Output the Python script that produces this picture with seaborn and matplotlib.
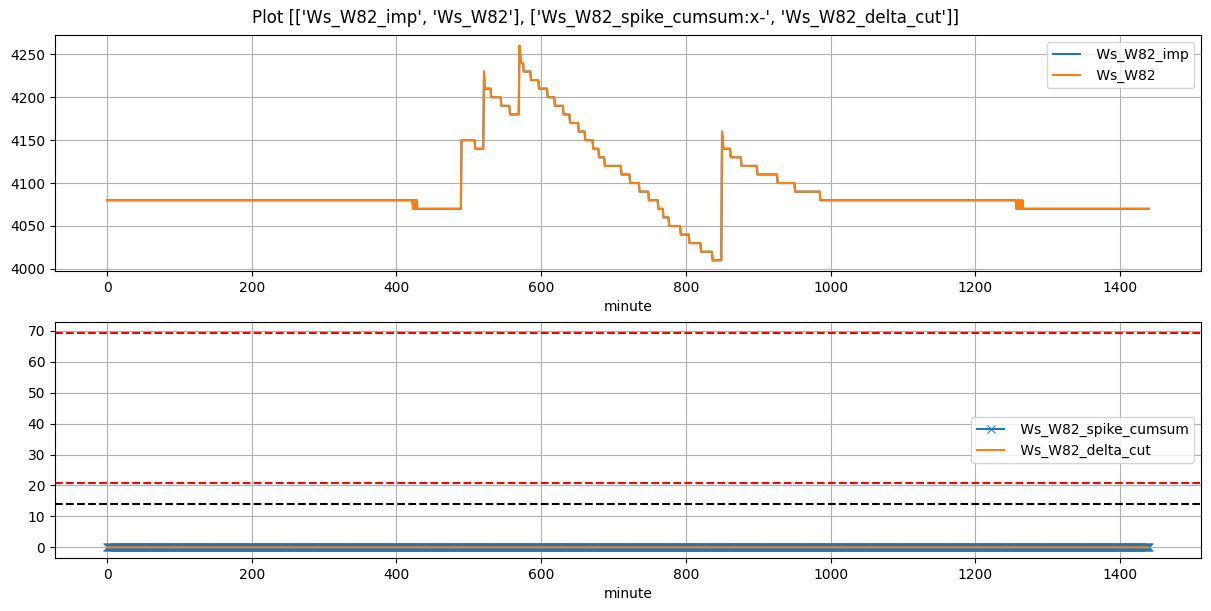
import numpy as np
import pandas as pd
import matplotlib
matplotlib.use('Agg')
import matplotlib.pyplot as plt
import seaborn as sns

# step change points of Ws_W82 (minute where the new value starts)
change_minute = [0, 423, 424, 425, 426, 427, 428, 429, 490, 509, 521, 522, 531, 545, 557,
                 570, 571, 572, 576, 586, 597, 609, 619, 631, 640, 652, 661, 672, 680,
                 688, 711, 723, 736, 749, 762, 769, 777, 793, 805, 821, 837, 850, 851,
                 852, 862, 877, 899, 927, 951, 986, 1257, 1259, 1260, 1262, 1263, 1265, 1266]
change_value = [4080, 4070, 4080, 4070, 4080, 4070, 4080, 4070, 4150, 4140, 4230, 4210, 4200, 4190, 4180,
                4260, 4250, 4240, 4230, 4220, 4210, 4200, 4190, 4180, 4170, 4160, 4150, 4140, 4130,
                4120, 4110, 4100, 4090, 4080, 4070, 4060, 4050, 4040, 4030, 4020, 4010, 4160, 4150,
                4140, 4130, 4120, 4110, 4100, 4090, 4080, 4070, 4080, 4070, 4080, 4070, 4080, 4070]
last_minute = 1440

# threshold lines in the lower panel
red_levels = [69.4, 20.7]
black_level = 14.1

minute = np.arange(last_minute + 1)
lengths = np.diff(change_minute + [last_minute + 1])
ws = np.repeat(change_value, lengths)

df = pd.DataFrame({'minute': minute,
                   'Ws_W82_imp': ws,
                   'Ws_W82': ws,
                   'Ws_W82_spike_cumsum': np.zeros(len(minute)),
                   'Ws_W82_delta_cut': np.zeros(len(minute))})

fig, axes = plt.subplots(2, 1, figsize=(12.11, 6.11), dpi=100)
fig.subplots_adjust(left=0.0454, right=0.9917, top=0.9427, bottom=0.0867, hspace=0.216)
fig.suptitle("Plot [['Ws_W82_imp', 'Ws_W82'], ['Ws_W82_spike_cumsum:x-', 'Ws_W82_delta_cut']]",
             y=0.986)

ax = axes[0]
sns.lineplot(data=df, x='minute', y='Ws_W82_imp', ax=ax, color='C0', linewidth=1.5,
             label=' Ws_W82_imp')
sns.lineplot(data=df, x='minute', y='Ws_W82', ax=ax, color='C1', linewidth=1.5,
             label=' Ws_W82')
ax.set_ylabel('')
ax.grid(True)
ax.legend(loc='upper right')

ax = axes[1]
sns.lineplot(data=df, x='minute', y='Ws_W82_spike_cumsum', ax=ax, color='C0', linewidth=1.5,
             marker='x', markersize=6, markeredgecolor='C0', label=' Ws_W82_spike_cumsum')
sns.lineplot(data=df, x='minute', y='Ws_W82_delta_cut', ax=ax, color='C1', linewidth=1.5,
             label=' Ws_W82_delta_cut')
for lv in red_levels:
    ax.axhline(lv, color='red', linestyle='--')
ax.axhline(black_level, color='black', linestyle='--')
ax.set_ylabel('')
ax.grid(True)
ax.legend(loc='center right')

fig.savefig('out.png', dpi=100)
